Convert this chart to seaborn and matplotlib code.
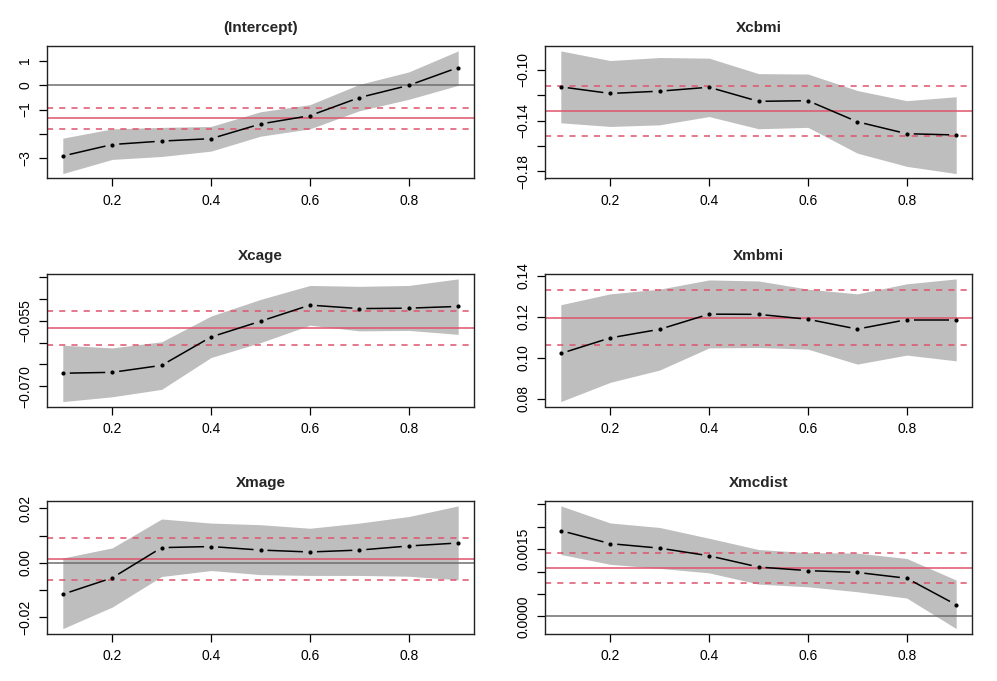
import numpy as np
import pandas as pd
import matplotlib
matplotlib.use("Agg")
import matplotlib.pyplot as plt
import seaborn as sns

# ---------------- data ----------------
taus = [0.1, 0.2, 0.3, 0.4, 0.5, 0.6, 0.7, 0.8, 0.9]
titles = ["(Intercept)", "Xcbmi", "Xcage", "Xmbmi", "Xmage", "Xmcdist"]

intercept_est = [-2.90, -2.43, -2.29, -2.19, -1.59, -1.25, -0.51, -0.01, 0.72]
intercept_hi = [-2.17, -1.79, -1.73, -1.69, -1.09, -0.80, 0.03, 0.54, 1.40]
intercept_lo = [-3.62, -3.04, -2.92, -2.70, -2.09, -1.79, -1.05, -0.58, -0.01]
intercept_ols = [-1.36, -0.93, -1.79]

xcbmi_est = [-0.1135, -0.1187, -0.1169, -0.1138, -0.1249, -0.1244, -0.1410, -0.1504, -0.1514]
xcbmi_hi = [-0.0852, -0.0928, -0.0904, -0.0909, -0.1031, -0.1034, -0.1164, -0.1244, -0.1213]
xcbmi_lo = [-0.1418, -0.1447, -0.1434, -0.1369, -0.1465, -0.1454, -0.1657, -0.1761, -0.1818]
xcbmi_ols = [-0.1325, -0.1132, -0.1522]

xcage_est = [-0.0670, -0.0668, -0.0652, -0.0587, -0.0551, -0.0514, -0.0522, -0.0521, -0.0517]
xcage_hi = [-0.0606, -0.0612, -0.0598, -0.0539, -0.0501, -0.0469, -0.0471, -0.0469, -0.0454]
xcage_lo = [-0.0735, -0.0724, -0.0707, -0.0634, -0.0600, -0.0560, -0.0573, -0.0572, -0.0581]
xcage_ols = [-0.0566, -0.0528, -0.0606]

xmbmi_est = [0.1020, 0.1096, 0.1138, 0.1212, 0.1211, 0.1187, 0.1139, 0.1185, 0.1185]
xmbmi_hi = [0.1258, 0.1311, 0.1334, 0.1379, 0.1374, 0.1334, 0.1311, 0.1360, 0.1384]
xmbmi_lo = [0.0785, 0.0879, 0.0939, 0.1047, 0.1049, 0.1041, 0.0968, 0.1012, 0.0984]
xmbmi_ols = [0.1195, 0.1332, 0.1059]

xmage_est = [-0.0115, -0.0055, 0.0056, 0.0060, 0.0047, 0.0040, 0.0047, 0.0062, 0.0073]
xmage_hi = [0.0018, 0.0055, 0.0161, 0.0146, 0.0140, 0.0127, 0.0146, 0.0170, 0.0209]
xmage_lo = [-0.0241, -0.0162, -0.0050, -0.0028, -0.0043, -0.0046, -0.0046, -0.0049, -0.0062]
xmage_ols = [0.0016, 0.0090, -0.0061]

xmcdist_est = [0.00191, 0.00162, 0.00152, 0.00135, 0.00110, 0.00102, 0.00098, 0.00085, 0.00026]
xmcdist_hi = [0.00246, 0.00208, 0.00198, 0.00174, 0.00149, 0.00142, 0.00141, 0.00129, 0.00081]
xmcdist_lo = [0.00138, 0.00116, 0.00107, 0.00097, 0.00072, 0.00066, 0.00055, 0.00041, -0.00027]
xmcdist_ols = [0.00107, 0.00141, 0.00074]

x_ticks = [0.2, 0.4, 0.6, 0.8]
x_labels = ["0.2", "0.4", "0.6", "0.8"]

intercept_yticks = [-3, -2, -1, 0, 1]
intercept_ylabels = ["\u22123", "", "\u22121", "0", "1"]
xcbmi_yticks = [-0.18, -0.16, -0.14, -0.12, -0.10]
xcbmi_ylabels = ["\u22120.18", "", "\u22120.14", "", "\u22120.10"]
xcage_yticks = [-0.070, -0.065, -0.060, -0.055, -0.050, -0.045]
xcage_ylabels = ["\u22120.070", "", "", "\u22120.055", "", ""]
xmbmi_yticks = [0.08, 0.10, 0.12, 0.14]
xmbmi_ylabels = ["0.08", "0.10", "0.12", "0.14"]
xmage_yticks = [-0.02, -0.01, 0.00, 0.01, 0.02]
xmage_ylabels = ["\u22120.02", "", "0.00", "", "0.02"]
xmcdist_yticks = [0.0, 0.0005, 0.0010, 0.0015, 0.0020, 0.0025]
xmcdist_ylabels = ["0.0000", "", "", "0.0015", "", ""]

panels = [
    (intercept_est, intercept_lo, intercept_hi, intercept_ols, intercept_yticks, intercept_ylabels, True),
    (xcbmi_est, xcbmi_lo, xcbmi_hi, xcbmi_ols, xcbmi_yticks, xcbmi_ylabels, False),
    (xcage_est, xcage_lo, xcage_hi, xcage_ols, xcage_yticks, xcage_ylabels, False),
    (xmbmi_est, xmbmi_lo, xmbmi_hi, xmbmi_ols, xmbmi_yticks, xmbmi_ylabels, False),
    (xmage_est, xmage_lo, xmage_hi, xmage_ols, xmage_yticks, xmage_ylabels, True),
    (xmcdist_est, xmcdist_lo, xmcdist_hi, xmcdist_ols, xmcdist_yticks, xmcdist_ylabels, True),
]

# ---------------- style ----------------
sns.set_theme(style="ticks")
plt.rcParams["font.family"] = ["Liberation Sans", "DejaVu Sans"]

W, H = 997, 681
fig = plt.figure(figsize=(W / 100, H / 100), dpi=100)
fig.patch.set_facecolor("white")

col_left = [47, 545]
col_w = 427
row_top = [46, 274, 501]
row_h = 132.5

BAND = "#BEBEBE"
RED = "#DF536B"
ZERO = "#6E6E6E"

for i, (est, lo, hi, ols, yt, yl, zero_line) in enumerate(panels):
    r, c = divmod(i, 2)
    ax = fig.add_axes([col_left[c] / W, 1 - (row_top[r] + row_h) / H, col_w / W, row_h / H])
    ax.set_facecolor("white")
    df = pd.DataFrame({"tau": taus, "est": est, "lo": lo, "hi": hi})

    # limits like R (4% padding of data range)
    vals = lo + hi + est + (([0.0]) if zero_line else [])
    ymin, ymax = min(vals), max(vals)
    pad = (ymax - ymin) * 0.04
    ax.set_ylim(ymin - pad, ymax + pad)
    ax.set_xlim(0.1 - 0.032, 0.9 + 0.032)
    ax.set_autoscale_on(False)

    ax.fill_between(df["tau"], df["lo"], df["hi"], color=BAND, linewidth=0, zorder=1)

    # type="b": segments with small gaps around points
    trans = ax.transData
    pts = trans.transform(np.column_stack([df["tau"], df["est"]]))
    gap = 7.0
    inv = trans.inverted()
    for k in range(len(pts) - 1):
        p0, p1 = pts[k], pts[k + 1]
        d = p1 - p0
        L = np.hypot(*d)
        if L <= 2 * gap:
            continue
        u = d / L
        a = inv.transform(p0 + u * gap)
        b = inv.transform(p1 - u * gap)
        ax.plot([a[0], b[0]], [a[1], b[1]], color="black", lw=1.1, zorder=3,
                solid_capstyle="butt")
    sns.scatterplot(data=df, x="tau", y="est", ax=ax, color="black", s=9,
                    linewidth=0, zorder=4, legend=False)

    ax.axhline(ols[0], color=RED, lw=1.1, zorder=2)
    ax.axhline(ols[1], color=RED, lw=1.1, ls=(0, (4, 4)), zorder=2)
    ax.axhline(ols[2], color=RED, lw=1.1, ls=(0, (4, 4)), zorder=2)
    if zero_line:
        ax.axhline(0, color=ZERO, lw=1.1, zorder=2)

    ax.set_title(titles[i], fontsize=11, fontweight="bold", pad=10)
    ax.set_xticks(x_ticks)
    ax.set_xticklabels(x_labels)
    ax.set_yticks(yt)
    ax.set_yticklabels(yl, rotation=90, va="center")
    ax.set_xlabel("")
    ax.set_ylabel("")
    ax.tick_params(axis="both", direction="out", length=5.5, width=0.9,
                   colors="black", labelsize=10)
    ax.tick_params(axis="x", pad=6)
    ax.tick_params(axis="y", pad=5)
    for s in ax.spines.values():
        s.set_visible(True)
        s.set_color("#222222")
        s.set_linewidth(1.0)

fig.savefig("out.png", dpi=100, facecolor="white")
